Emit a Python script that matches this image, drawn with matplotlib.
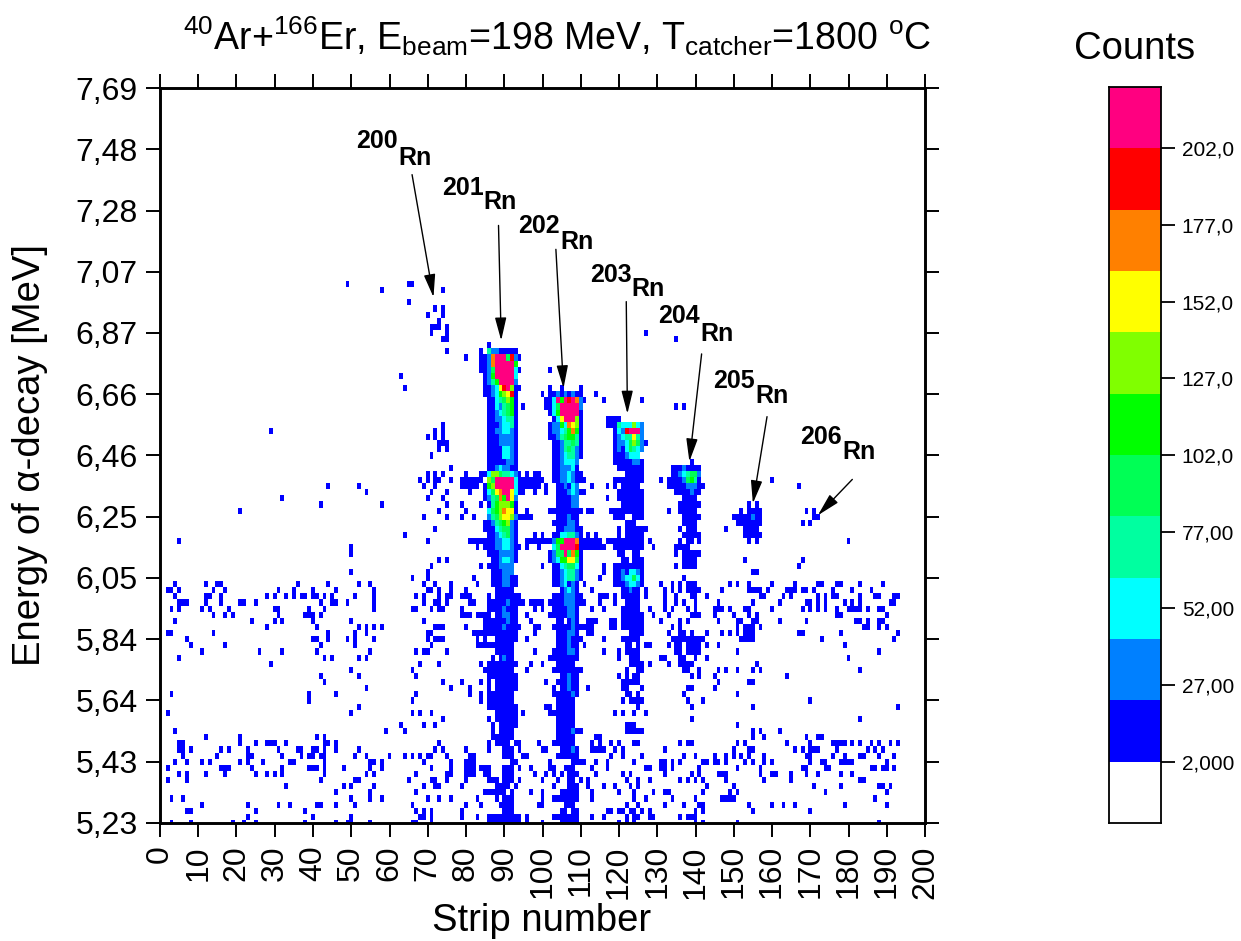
import numpy as np
import matplotlib
matplotlib.use("Agg")
import matplotlib.pyplot as plt
from matplotlib.colors import ListedColormap, BoundaryNorm

plt.rcParams['font.family'] = ['Liberation Sans', 'DejaVu Sans']
plt.rcParams['mathtext.fontset'] = 'custom'
plt.rcParams['mathtext.rm'] = 'Liberation Sans'
plt.rcParams['mathtext.default'] = 'regular'

W, H = 1241, 941

x_ticks = list(range(0, 201, 10))
y_labels = ["5,23", "5,43", "5,64", "5,84", "6,05", "6,25", "6,46", "6,66", "6,87", "7,07", "7,28", "7,48", "7,69"]
cbar_ticks = [2, 27, 52, 77, 102, 127, 152, 177, 202]
cbar_labels = ["2,000", "27,00", "52,00", "77,00", "102,0", "127,0", "152,0", "177,0", "202,0"]
bounds = [-18, 2, 22, 42, 62, 82, 102, 122, 142, 162, 182, 202, 222]
colors = ["#FFFFFF", "#0000FF", "#0080FF", "#00FFFF", "#00FFA0", "#00FF55", "#00FF00",
          "#80FF00", "#FFFF00", "#FF8000", "#FF0000", "#FF0080"]
# counts in the middle of each colour band
level_counts = [0, 12, 32, 52, 72, 92, 112, 132, 152, 172, 192, 212]

# row index -> strips with low counts (row 0 is 5,23 MeV)
left_rows = {
    88: "49 65 66", 87: "58 74", 85: "65", 84: "72 74", 83: "70 74", 82: "73", 81: "71-73 75",
    80: "71 75", 79: "74 75", 77: "75", 73: "63", 71: "64", 65: "74", 64: "29 72 74",
    63: "70 72 74", 62: "73-75", 61: "73 75", 60: "71", 58: "76", 57: "70 72 74",
    56: "68 70 72 73 76", 55: "44 52 69 72", 54: "54 71 75", 53: "32 70 74", 52: "42 58 75",
    51: "21 73", 50: "69 75", 48: "72", 47: "64", 46: "5 70", 45: "50", 44: "50", 43: "73 75",
    42: "71", 41: "50 70", 40: "66 70", 39: "4 12 15 16 36 44 52 55 69 72",
    38: "2 3 5 14 17 31 35 40 46 56 70 71 73",
    37: "4 12 13 16 28 30 33 35 37 38 40 41 43 45 51 56 67 69 73",
    36: "5-7 12 16 21 22 25 42 45 46 49 56 69 72 73",
    35: "3 5 11 13 18 30 31 39 43 56 66 67 71 73", 34: "14 17 19 31 38-40 42",
    33: "4 24 30 32 40 50 69", 32: "28 41 52 54 56 58 72 73", 31: "2 3 14 44 51 54 70 71",
    30: "7 40 41 44 49 51 56 70 72 73", 29: "8 17 42 51 71", 28: "11 26 32 41 55 67 69 70",
    27: "5 43 45 52 54", 26: "29 68 73", 25: "50 66", 24: "42 52 67", 23: "43", 22: "54",
    21: "3 39 46 67", 20: "39 66", 19: "52", 18: "2 50 66 68 71", 16: "63 69 72", 15: "4 59 64",
    14: "12 21 41 43", 13: "5 6 21 25 28-30 33 43 44 46 73",
    12: "5 6 8 16 18 23 31 36 37 40 41 43 46 52 72",
    11: "6 15 23 24 32 37 39 40 42 43 51 54 60 64 66 68 70 71",
    10: "4 7 11 13 21 23 27 34 35 43 55 56 58 69", 9: "2 16-18 24 32 39-41 43 48 55 58 71",
    8: "5 7 12 17 25 28 30 32 43 54 56 67", 7: "2 7 42 51 52 65 71 72",
    6: "33 48 50 56 69 72 73", 5: "46 55 67", 4: "3 6 50 55 58 70 73",
    3: "11 23 31 34 41 42 46 51 66", 2: "7 8 25 38 67 69 71", 1: "23 40 50 68 69 71",
    0: "3 8 19 22 25 38 46 49 50 55 66 67 71",
}
middle_rows = {
    80: "127", 78: "86", 77: "84", 76: "80 84 85 94", 75: "84", 74: "102", 71: "102 105 110",
    70: "100 114", 69: "111 116 126", 68: "95 135", 58: "120-126", 57: "80 84 93 94 96 98 99 122-126",
    56: "79-84 93-100 110 111 119-126 131 133 134", 55: "79-83 85 94-99 101 113 117 119 121-125 133",
    54: "81 85 94 95 98 101 111 120-126", 53: "85 93 117 120-126", 52: "79 84 121-126",
    51: "80 96 102-110 112 113 118 119-126 133", 50: "79 82 94-97 119-121 124-126", 49: "122-124",
    48: "120 122-127", 47: "98 100 112 114 120 122-126", 46: "81-85 96-102 111-115 117-126 128",
    45: "83 85 94 96 99 111-116 119-126 129 135 136", 44: "120 121 124 125", 43: "121 122 124-126",
    42: "84 86-88 100 103 104 110 116 119-126", 41: "87-89 103 104 110 116 119-126",
    40: "82 87-89 92 93 103 104 110 115 119-126", 39: "76 83 87-89 92 93 103 104 109 111 119-126 131 134 136",
    38: "76 80 88-92 105 109 113 121-125 127 132 134 136",
    37: "75 76 79-81 86 88-94 103-105 109 110 115-117 119 121-125 127 132",
    36: "75 81 82 86-90 92-95 97 98-100 102-105 109-111 115 119 122-125 132",
    35: "74 79 86-88 89 91-93 98 100 103-106 109 113 116 121-125 128 132",
    34: "79-81 83-86 88 89 92 93 96 102-106 109 121-126 129 133",
    33: "85-90 92 93 97 104 105 107 109 112-114 118 119 121-126 131",
    32: "74 80 85-89 91-94 98 99 103-107 109-113 118 119 121-126",
    31: "82-93 98 104-106 109 112 113 123-126 133", 30: "74 83 85 88-93 96 104-106 108-110 116 121-125 135 136",
    29: "83-87 88-92 104-106 108 109 111 122 123 125 127 128 133 135 136",
    28: "75 88-92 98 103-106 108 109 116 120 122-125 135 136",
    27: "87 89 91 92 102-109 120 123-125 131 132", 26: "84 86-93 97 100 104-108 123-126 128 133",
    25: "85-92 96 103-110 122 125 126", 24: "86-93 105 106 108 109 120 122 124 125",
    23: "74 79 84 86 88-93 101 104-106 108 109 121-125", 22: "76 81 86 88-93 103 105 106 108 109 112 121 122 126",
    21: "81 84 86-92 103-107 109 122 123 125", 20: "84 86-92 104-108 121 123-126",
    19: "86-93 101 102 104-108 125", 18: "88-93 95 102-108 119 121 124 127", 17: "74 86 88-93 104-108",
    16: "87 89-93 104-108 122-124", 15: "87 89-92 104-107 109 110 122-126", 14: "87-92 104-108 114 115",
    13: "86 88-91 93 94 99 103-108 113 115 118 120 124 125",
    12: "74 80 86 90-92 94 100 101 105-107 109 113-116 119 121 132",
    11: "75 81 82 90-92 95 96 104-109 118 121 126", 10: "76 80-82 92 93 102 108-111 114 117 124 131 134",
    9: "76 80-82 84-86 90-92 94 97 102 103 106-108 113 117 127 128 131 132 134",
    8: "75 76 80-82 85 86 90-92 98 101 103 105 107-109 114 121 123 132",
    7: "75 80 86-88 90-92 94 100 104 107 108 110 112 122 125 128",
    6: "79 88-91 93 103 107-109 112 116 119 123 125", 5: "85-90 92 97 100 105-109 113 120 124 129 132 133",
    4: "76 83 88 90-92 100 103-109 113 124 127 134", 3: "80 84 89-92 99 100 106-108 122 125 132",
    2: "79 90-92 105 106 108 109 117 118 120 121 123 124 126 128",
    1: "79 83 86-94 96 103-109 113 116 122 124 125 128 129", 0: "86-94 96 100 105-109 120 122 124",
}
right_rows = {
    79: "135", 68: "135 137", 59: "139", 58: "134-141", 57: "134 135", 56: "131 133 160", 55: "134-136 137-142 167",
    54: "135-141", 53: "137-140", 52: "136-141 154 156", 51: "133 136-140 152 154-157 169 171",
    50: "137-141 150-157 171 172", 49: "137-140 151-157 168 170", 48: "136 138-140 148 153-156",
    47: "137-141 153-157", 46: "136 138 139 141 154 156 180", 45: "135-138", 44: "135 137-141",
    43: "137-140 153 168", 42: "135 137-140 167", 41: "155 156", 40: "137",
    39: "131 134 138-140 149 151 154 160 166 172 173 177 178 183 189",
    38: "132 134 136 138-141 147 154-157 159 164-166 168 169 171 176 181 186",
    37: "135 139 140 143 157 158 163 165 172 174 176 177 183 187 188 192 193",
    36: "132 135 137 140 146 155 162 169 170 172 174 179 181 183 191 192",
    35: "132 134 138 140 145-147 149 153 154 160 168 170 172 174 177 180-183 185 188 189",
    34: "133 139-141 145 150 154 156 177 178 190", 33: "131 136 138 146 151 152 155 156 162 169 182 183 185 188 189",
    32: "134 136 151 153-155 157 184 185 188 190", 31: "133 136 137 139 143 147 149 151 153-155 167 168 178 193",
    30: "134-142 152-155 173 192", 29: "133 135 138-141 143 146 179", 28: "135 138-141 151 188",
    27: "131 132 136 137 140 143 180", 26: "133 136-139 156", 25: "137 138 141 146 148 151 155 157 183",
    24: "139 141 145 164", 23: "146 154 155", 22: "138 139 145", 21: "137 151", 20: "138 142 170",
    19: "139 155 193", 17: "139 183", 16: "151", 15: "155 157 162", 14: "155 158 169 172 173",
    13: "136 138 139 151 153 164 170 176-179 181 183 186 188 191 193",
    12: "132 150 154 155 166 168 170-172 177 185 187 189",
    11: "137 140 145 148 150 152 154 158 169 170 176 179 183 184 188 192",
    10: "131 132 134 136 142 143 145 146 148 153 155 158 160 170 173 174 178-181 190",
    9: "131 132 134 141 151 157 168 169 174 175 186 187 189 190 192",
    8: "132 139 141 146-148 157 160 161 165 169 172 178 181", 7: "136 138 140 142 148 158 165 183 184",
    6: "143 150 171 178 188 189 191", 5: "132 133 142 149 151 174 190", 4: "134 140 147-150 187",
    3: "132 137 141 142 154 160 163 166 179 190", 2: "140 142 155 170", 1: "136 138-140", 0: "140 142 151 188",
}

# row index -> (first strip, one colour level per strip, hex-like)
peak_201_cells = {
    77: (86, "42211111"), 76: (84, "1129bbb5a21"), 75: (85, "129bbbbb6"), 74: (84, "1125bbbbb31"),
    73: (85, "126bbbbb3"), 72: (85, "1246bbbb2"), 71: (85, "11238ab711"), 70: (85, "1123678a1"),
    69: (86, "11345761"), 68: (86, "11324561"), 67: (86, "11234561"), 66: (86, "11223441"),
    65: (86, "11123341"), 64: (86, "11223321"), 63: (86, "11122221"), 62: (86, "11122221"),
    61: (86, "11113321"), 60: (86, "11113321"), 59: (86, "11111221"), 58: (86, "11232211"),
    57: (84, "11377544321"), 56: (86, "75bbbbb3"), 55: (86, "67bbbbb3"), 54: (86, "3589bb83"),
    53: (86, "24596b82"), 52: (86, "14677761"), 51: (86, "35679881"), 50: (86, "24578872"),
    49: (85, "112456721"), 48: (85, "111345521"), 47: (86, "11234521"), 46: (86, "11223321"),
    45: (86, "11223321"), 44: (86, "11122221"), 43: (87, "1123321"), 42: (89, "2222"),
    41: (90, "222"), 40: (90, "22"), 39: (90, "22"), 36: (91, "2"), 35: (90, "2"), 34: (90, "22"),
    33: (91, "2"), 32: (90, "2"), 27: (90, "2"),
}
peak_202_cells = {
    70: (102, "112121211"), 69: (101, "113b6bab921"), 68: (101, "1135bbbbb2"), 67: (102, "136bbbbb1"),
    66: (103, "138bbb71"), 65: (102, "122639871"), 64: (102, "122346961"), 63: (102, "112456641"),
    62: (103, "11244541"), 61: (103, "11245421"), 60: (103, "11234421"), 59: (103, "1123332"),
    58: (103, "1122231"), 57: (103, "11223211"), 56: (103, "11223211"), 55: (104, "112132"),
    54: (104, "1112321"), 53: (104, "111122"), 52: (104, "111122"), 50: (104, "111211"),
    49: (103, "1111221"), 48: (104, "1122211"), 47: (103, "11334421"), 46: (103, "266bbb91"),
    45: (103, "35bbbba1"), 44: (102, "1255b5961"), 43: (102, "123668851"), 42: (104, "1345531"),
    41: (103, "11234421"), 40: (103, "11234421"), 39: (103, "1123121"), 38: (105, "12321"),
    37: (106, "222"), 36: (106, "222"), 35: (107, "22"), 34: (107, "22"), 33: (108, "2"), 32: (108, "2"),
    31: (107, "22"), 30: (107, "2"), 29: (107, "2"), 28: (107, "22"), 24: (107, "2"), 23: (107, "2"),
    22: (107, "2"), 21: (108, "2"), 15: (108, "2"), 12: (108, "2"),
}
peak_203_cells = {
    66: (117, "1111"), 65: (117, "1114333732"), 64: (119, "132abbb2"), 63: (119, "12344842"),
    62: (119, "122357521"), 61: (119, "12135432"), 60: (119, "1112333"), 59: (119, "11111221"),
    41: (119, "11213321"), 40: (119, "11233531"), 39: (119, "11123321"), 38: (121, "11211"),
}
peak_204_cells = {
    58: (137, "2"), 57: (134, "11234552"), 56: (135, "1125641"), 55: (137, "12221"), 54: (139, "2"),
}
peak_205_cells = {50: (155, "2")}

isotopes = ["200", "201", "202", "203", "204", "205", "206"]
# strip, energy the arrows point at
arrow_tips = [(71.5, 6.99), (89.2, 6.845), (105.5, 6.685), (122.2, 6.60), (138.4, 6.44), (155.0, 6.30), (172.0, 6.26)]
arrow_tails = [(65.9, 7.40), (88.5, 7.23), (103.5, 7.15), (121.9, 6.975), (141.6, 6.80), (158.7, 6.59), (181.0, 6.38)]
label_px = [(356, 141), (442, 188), (518, 226), (590, 275), (658, 316), (713, 381), (800, 437)]
rn_px = [(398, 158), (483, 202), (560, 242), (631, 289), (700, 334), (755, 396), (842, 452)]


def strips(text):
    out = []
    for tok in text.split():
        if "-" in tok:
            a, b = tok.split("-")
            out += list(range(int(a), int(b) + 1))
        else:
            out.append(int(tok))
    return out


grid = np.zeros((121, 201))
for table in [left_rows, middle_rows, right_rows]:
    for row, text in table.items():
        for s in strips(text):
            grid[row, s] = level_counts[1]
for table in [peak_201_cells, peak_202_cells, peak_203_cells, peak_204_cells, peak_205_cells]:
    for row, (first, text) in table.items():
        for i, ch in enumerate(text):
            grid[row, first + i] = level_counts[int(ch, 16)]

fig = plt.figure(figsize=(W / 100, H / 100), dpi=100)


def box(left, top, right, bottom):
    return [left / W, 1 - bottom / H, (right - left) / W, (bottom - top) / H]


ax = fig.add_axes(box(160, 88, 925, 823))
cmap = ListedColormap(colors)
norm = BoundaryNorm(bounds, cmap.N)
dy = (7.69 - 5.23) / 120
x_edges = np.arange(202) - 0.5
y_edges = 5.23 + (np.arange(122) - 0.5) * dy
ax.pcolormesh(x_edges, y_edges, grid, cmap=cmap, norm=norm)
ax.set_xlim(0, 200)
ax.set_ylim(5.23, 7.69)
ax.set_xticks(x_ticks)
ax.set_xticklabels([str(v) for v in x_ticks], rotation=90, fontsize=23)
ax.set_yticks(np.linspace(5.23, 7.69, len(y_labels)))
ax.set_yticklabels(y_labels, fontsize=23)
ax.tick_params(axis="both", which="major", length=10, width=1.4, direction="out", top=True, right=True, pad=6)
for sp in ax.spines.values():
    sp.set_linewidth(2.1)
ax.set_axisbelow(False)

fig.text(542 / W, 1 - 921 / H, "Strip number", fontsize=27.5, ha="center", va="center")
fig.text(30 / W, 1 - 455 / H, "Energy of α-decay [MeV]", fontsize=27.5, rotation=90, ha="center", va="center")
fig.text(183 / W, 1 - 50 / H,
         r"$^{40}$Ar+$^{166}$Er, E$_{beam}$=198 MeV, T$_{catcher}$=1800 $^{o}$C",
         fontsize=27, ha="left", va="baseline")

for i, iso in enumerate(isotopes):
    fig.text(label_px[i][0] / W, 1 - label_px[i][1] / H, iso, fontsize=18, fontweight="bold", ha="left", va="center")
    fig.text(rn_px[i][0] / W, 1 - rn_px[i][1] / H, "Rn", fontsize=18, fontweight="bold", ha="left", va="center")
    ax.annotate("", xy=arrow_tips[i], xytext=arrow_tails[i],
                arrowprops=dict(arrowstyle="-|>,head_length=14,head_width=3.5", mutation_scale=1,
                                color="black", lw=1, shrinkA=0, shrinkB=0))

cax = fig.add_axes(box(1109, 87, 1161, 823))
cax.pcolormesh([0, 1], bounds, np.array(bounds[:-1])[:, None] + 10, cmap=cmap, norm=norm)
cax.set_xticks([])
cax.set_ylim(bounds[0], bounds[-1])
cax.yaxis.tick_right()
cax.set_yticks(cbar_ticks)
cax.set_yticklabels(cbar_labels, fontsize=15)
cax.tick_params(axis="y", length=10, width=1.3, pad=5)
for sp in cax.spines.values():
    sp.set_linewidth(1.3)
fig.text(1135 / W, 1 - 49 / H, "Counts", fontsize=27.5, ha="center", va="center")

fig.savefig("out.png", dpi=100)
